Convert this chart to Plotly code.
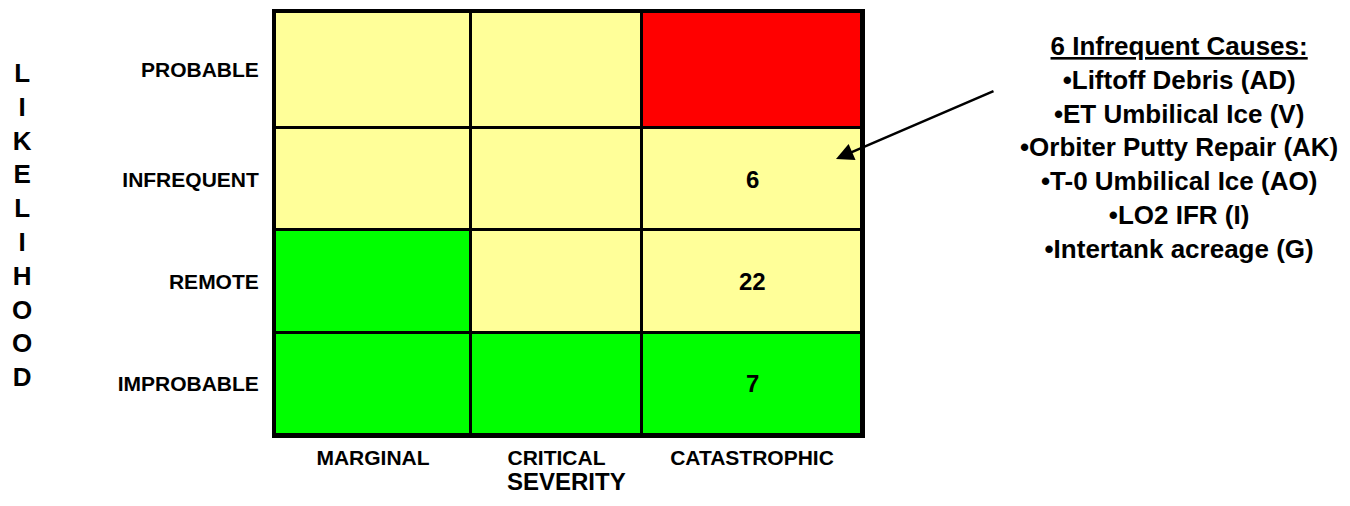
import plotly.graph_objects as go

# Risk matrix: severity columns, likelihood rows (bottom -> top)
severity = ["MARGINAL", "CRITICAL", "CATASTROPHIC"]
likelihood = ["IMPROBABLE", "REMOTE", "INFREQUENT", "PROBABLE"]

# 0 = low (green), 1 = medium (yellow), 2 = high (red)
risk_level = [
    [0, 0, 0],  # IMPROBABLE
    [0, 1, 1],  # REMOTE
    [1, 1, 1],  # INFREQUENT
    [1, 1, 2],  # PROBABLE
]

# number of causes sitting in each cell (None = empty)
cause_counts = [
    [None, None, 7],
    [None, None, 22],
    [None, None, 6],
    [None, None, None],
]

infrequent_causes = [
    "Liftoff Debris (AD)",
    "ET Umbilical Ice (V)",
    "Orbiter Putty Repair (AK)",
    "T-0 Umbilical Ice (AO)",
    "LO2 IFR (I)",
    "Intertank acreage (G)",
]

# cell sizes as drawn on the slide (columns / rows are not even)
col_edges = [0, 196, 367, 587]
row_edges = [0, 103, 206, 309, 426]

col_mid = [(a + b) / 2 for a, b in zip(col_edges[:-1], col_edges[1:])]
row_mid = [(a + b) / 2 for a, b in zip(row_edges[:-1], row_edges[1:])]

FONT = "Liberation Sans, Arial, sans-serif"

fig = go.Figure(go.Heatmap(
    z=risk_level,
    x=col_edges,
    y=row_edges,
    zmin=0, zmax=2,
    colorscale=[[0, "#00FF00"], [0.5, "#FFFF99"], [1, "#FF0000"]],
    showscale=False,
    xgap=3, ygap=3,
    hoverinfo="skip",
))

# counts inside cells
for r, row in enumerate(cause_counts):
    for c, val in enumerate(row):
        if val is None:
            continue
        fig.add_annotation(x=col_mid[c], y=row_mid[r], text=f"<b>{val}</b>",
                           showarrow=False, font=dict(family=FONT, size=24, color="black"))

# vertical LIKELIHOOD label
fig.add_annotation(xref="paper", yref="paper", x=-0.431, y=0.4965,
                   xanchor="center", yanchor="middle",
                   text="<br>".join("<b>%s</b>" % ch for ch in "LIKELIHOOD"),
                   showarrow=False, align="center",
                   font=dict(family=FONT, size=26, color="black"))

# SEVERITY axis title
fig.add_annotation(xref="paper", yref="paper", x=0.497, y=-0.11,
                   xanchor="center", yanchor="middle",
                   text="<b>SEVERITY</b>", showarrow=False,
                   font=dict(family=FONT, size=24, color="black"))

# callout listing the infrequent causes
callout = "<b><u>%d Infrequent Causes:</u></b><br>" % len(infrequent_causes)
callout += "<br>".join("<b>\u2022%s</b>" % c for c in infrequent_causes)
fig.add_annotation(xref="paper", yref="paper", x=1.54, y=0.6796,
                   text=callout, showarrow=False, align="center",
                   xanchor="center", yanchor="middle",
                   font=dict(family=FONT, size=26, color="black"))

# arrow pointing at the INFREQUENT / CATASTROPHIC cell
fig.add_annotation(x=561, y=278, ax=720, ay=347, xref="x", yref="y",
                   axref="x", ayref="y", text="", showarrow=True,
                   arrowhead=2, arrowsize=1.4, arrowwidth=2.5, arrowcolor="black")

fig.update_xaxes(range=[0, 587], tickvals=col_mid, ticktext=severity,
                 ticks="outside", ticklen=2, tickcolor="rgba(0,0,0,0)",
                 tickfont=dict(family=FONT, size=21, color="black", weight="bold"),
                 showgrid=False, zeroline=False,
                 showline=True, mirror=True, linewidth=3, linecolor="black")
fig.update_yaxes(range=[0, 426], tickvals=row_mid, ticktext=likelihood,
                 ticks="outside", ticklen=9, tickcolor="rgba(0,0,0,0)",
                 tickfont=dict(family=FONT, size=21, color="black", weight="bold"),
                 showgrid=False, zeroline=False,
                 showline=True, mirror=True, linewidth=3, linecolor="black")

# page body adds an 8px margin, so the figure is sized to fit inside it
fig.update_layout(width=1334, height=490,
                  margin=dict(l=267, r=480, t=1, b=63),
                  plot_bgcolor="black", paper_bgcolor="white",
                  showlegend=False)

fig.write_html("out.html")
